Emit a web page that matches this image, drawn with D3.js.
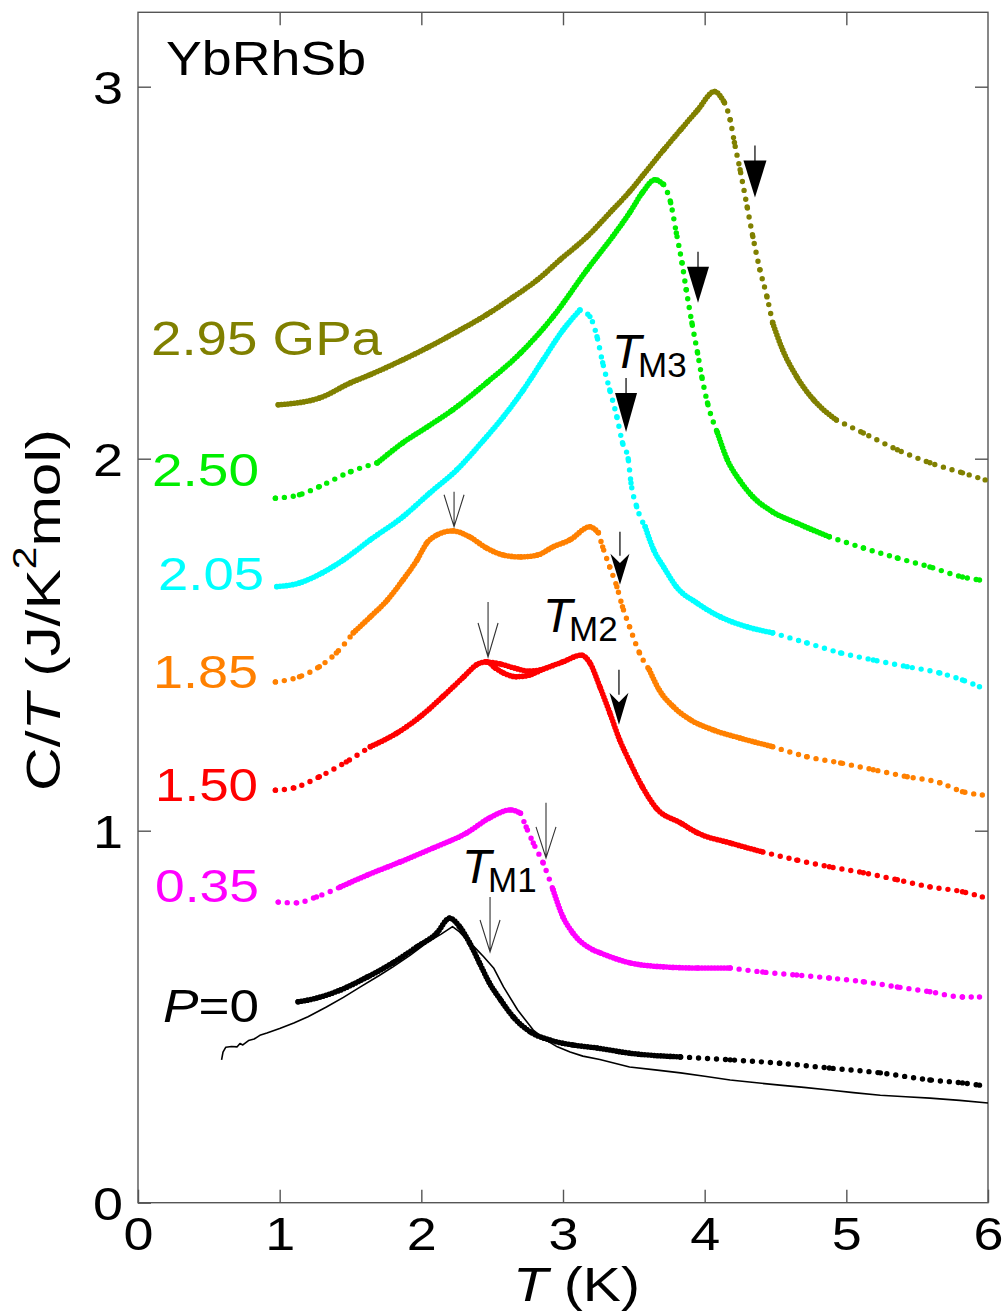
<!DOCTYPE html>
<html><head><meta charset="utf-8">
<script src="https://cdn.jsdelivr.net/npm/d3@7"></script>
<style>body{margin:0;background:#fff}svg{display:block}</style>
</head><body><svg id="c" width="1002" height="1311"></svg>
<script>
// ---------------- DATA ----------------
const xTicks = [0, 1, 2, 3, 4, 5, 6];
const yTicks = [0, 1, 2, 3];
const seriesNames = ["2.95 GPa", "2.50", "2.05", "1.85", "1.50", "0.35", "P=0"];

const T_295 = [0.99,1.28,1.50,1.64,1.87,2.04,2.25,2.46,2.65,2.82,2.98,3.17,3.35,3.47,3.56,3.71,3.83,3.95,4.07,4.14,4.18,4.21,4.25,4.30,4.34,4.39,4.44,4.48,4.55,4.65,4.77,4.93,5.12,5.36,5.59,5.82,5.98];
const C_295 = [2.145,2.163,2.204,2.226,2.266,2.298,2.341,2.387,2.435,2.481,2.535,2.597,2.669,2.718,2.760,2.830,2.884,2.937,2.987,2.957,2.911,2.850,2.777,2.677,2.597,2.508,2.435,2.365,2.293,2.220,2.158,2.104,2.069,2.024,1.989,1.962,1.943];

const T_250 = [0.97,1.14,1.28,1.50,1.69,1.87,2.04,2.22,2.46,2.70,2.93,3.17,3.35,3.47,3.56,3.65,3.71,3.76,3.80,3.84,3.87,3.91,3.95,3.98,4.02,4.09,4.16,4.25,4.34,4.48,4.65,4.88,5.12,5.36,5.59,5.82,5.94];
const C_250 = [1.894,1.903,1.925,1.965,1.989,2.043,2.085,2.131,2.204,2.284,2.382,2.508,2.597,2.661,2.715,2.750,2.737,2.688,2.607,2.527,2.454,2.365,2.284,2.220,2.150,2.070,1.997,1.940,1.898,1.857,1.827,1.790,1.760,1.733,1.709,1.682,1.674];

const T_205 = [0.98,1.14,1.30,1.45,1.64,1.87,2.06,2.25,2.44,2.58,2.72,2.86,3.00,3.12,3.19,3.24,3.28,3.33,3.38,3.42,3.46,3.48,3.52,3.58,3.64,3.71,3.80,3.95,4.11,4.30,4.48,4.72,4.96,5.19,5.43,5.66,5.82,5.94];
const C_205 = [1.656,1.666,1.693,1.728,1.782,1.844,1.908,1.970,2.050,2.113,2.185,2.266,2.346,2.400,2.382,2.328,2.258,2.185,2.113,2.043,2.000,1.935,1.871,1.817,1.755,1.709,1.656,1.611,1.575,1.548,1.532,1.505,1.478,1.459,1.441,1.424,1.405,1.387];

const T_185 = [0.97,1.14,1.28,1.40,1.52,1.64,1.76,1.87,1.97,2.04,2.11,2.22,2.34,2.46,2.58,2.70,2.82,2.93,3.05,3.19,3.25,3.28,3.33,3.38,3.42,3.47,3.54,3.61,3.68,3.78,3.90,4.06,4.25,4.48,4.72,4.96,5.19,5.43,5.66,5.82,5.96];
const C_185 = [1.400,1.414,1.441,1.478,1.532,1.575,1.620,1.674,1.728,1.774,1.795,1.806,1.790,1.760,1.741,1.736,1.741,1.763,1.782,1.817,1.801,1.763,1.709,1.656,1.602,1.548,1.478,1.432,1.378,1.333,1.298,1.271,1.249,1.226,1.199,1.182,1.164,1.145,1.129,1.105,1.096];

const T_150 = [0.97,1.10,1.28,1.47,1.64,1.83,1.99,2.15,2.30,2.39,2.46,2.52,2.58,2.67,2.76,2.86,3.00,3.13,3.19,3.26,3.33,3.40,3.47,3.56,3.66,3.83,3.95,4.18,4.41,4.65,4.88,5.12,5.36,5.59,5.82,5.96];
const C_150 = [1.109,1.115,1.145,1.185,1.226,1.263,1.306,1.360,1.414,1.446,1.454,1.438,1.424,1.414,1.418,1.434,1.454,1.472,1.451,1.387,1.317,1.244,1.186,1.118,1.060,1.021,0.994,0.967,0.943,0.921,0.903,0.887,0.868,0.849,0.836,0.822];
const T_150loop = [2.46,2.56,2.66,2.76,2.84];
const C_150loop = [1.454,1.448,1.437,1.429,1.432];

const T_035 = [0.99,1.12,1.26,1.43,1.62,1.85,2.08,2.32,2.48,2.63,2.70,2.74,2.79,2.86,2.93,3.00,3.07,3.21,3.26,3.47,3.71,3.95,4.18,4.41,4.65,4.88,5.12,5.36,5.59,5.82,5.94];
const C_035 = [0.808,0.806,0.822,0.849,0.881,0.916,0.953,0.994,1.034,1.056,1.047,1.010,0.967,0.913,0.841,0.768,0.725,0.680,0.672,0.645,0.634,0.631,0.631,0.620,0.612,0.604,0.594,0.580,0.567,0.553,0.553];

const T_0dots = [1.13,1.26,1.43,1.62,1.80,1.97,2.11,2.20,2.27,2.34,2.41,2.48,2.56,2.65,2.77,2.91,3.07,3.24,3.47,3.83,4.18,4.53,4.88,5.24,5.59,5.82,5.94];
const C_0dots = [0.540,0.550,0.572,0.607,0.645,0.688,0.725,0.765,0.742,0.699,0.645,0.591,0.545,0.499,0.459,0.437,0.424,0.416,0.402,0.392,0.384,0.375,0.362,0.349,0.330,0.322,0.316];

const T_0line = [0.59,0.60,0.62,0.66,0.70,0.72,0.74,0.78,0.82,0.86,0.91,1.00,1.10,1.20,1.33,1.45,1.57,1.70,1.80,1.92,2.04,2.14,2.22,2.27,2.32,2.38,2.44,2.51,2.58,2.68,2.79,2.88,2.96,3.05,3.14,3.26,3.47,3.65,3.83,4.00,4.18,4.35,4.53,4.70,4.88,5.05,5.24,5.42,5.59,5.80,6.00];
const C_0line = [0.384,0.405,0.418,0.420,0.419,0.428,0.424,0.436,0.440,0.450,0.456,0.468,0.483,0.500,0.526,0.552,0.580,0.610,0.634,0.665,0.699,0.722,0.742,0.728,0.707,0.685,0.661,0.631,0.580,0.518,0.464,0.437,0.419,0.405,0.394,0.385,0.365,0.357,0.349,0.340,0.330,0.323,0.316,0.310,0.303,0.296,0.289,0.285,0.281,0.275,0.268];

// transition arrows (tip position in data units)
const filledArrowT = [4.355, 3.953, 3.445, 3.402, 3.395];
const filledArrowC = [2.702, 2.419, 2.072, 1.661, 1.285];
const openArrowT = [2.231, 2.471, 2.880, 2.485];
const openArrowC = [1.817, 1.467, 0.927, 0.674];

// ---------------- STYLE / LAYOUT ----------------
const FONT = "'Liberation Sans', Arial, Helvetica, sans-serif";
const svg = d3.select("#c");
const M = {l: 138, r: 988, t: 12.3, b: 1202.7};
const x = d3.scaleLinear().domain([0, 6]).range([M.l, M.r]);
const y = d3.scaleLinear().domain([0, 3.2]).range([M.b, M.t]);
const zip = (a, b) => a.map((t, i) => [t, b[i]]);

const series = [
  {T: T_295, C: C_295, color: "#808000", sparse: [[4.12, 4.5], [4.95, 7]]},
  {T: T_250, C: C_250, color: "#00ee00", sparse: [[0, 1.6], [3.72, 4.12], [4.88, 7]]},
  {T: T_205, C: C_205, color: "#00ffff", sparse: [[3.15, 3.55], [4.44, 7]]},
  {T: T_185, C: C_185, color: "#ff8000", sparse: [[0, 1.5], [3.22, 3.6], [4.48, 7]]},
  {T: T_150, C: C_150, color: "#ff0000", sparse: [[0, 1.6], [4.44, 7]]},
  {T: T_150loop, C: C_150loop, color: "#ff0000", sparse: []},
  {T: T_035, C: C_035, color: "#ff00ff", sparse: [[0, 1.5], [2.68, 2.95], [4.16, 7]]},
  {T: T_0dots, C: C_0dots, color: "#000000", sparse: [[3.99, 7]]}
];

// frame + ticks
const axG = svg.append("g");
function styleAxis(g, labels) {
  g.select(".domain").remove();
  g.selectAll(".tick line").attr("stroke", "#555").attr("stroke-width", 1.4);
  if (!labels) g.selectAll(".tick text").remove();
  else g.selectAll(".tick text").attr("fill", "#000").style("font-family", FONT).style("font-size", "46px")
        .attr("textLength", 30).attr("lengthAdjust", "spacingAndGlyphs");
}
axG.append("g").attr("transform", `translate(0,${M.b})`)
  .call(d3.axisBottom(x).tickValues(xTicks).tickSizeInner(-13).tickSizeOuter(0).tickPadding(15).tickFormat(d3.format("d")))
  .call(g => styleAxis(g, true));
axG.append("g").attr("transform", `translate(0,${M.t})`)
  .call(d3.axisTop(x).tickValues(xTicks.slice(1, -1)).tickSizeInner(-13).tickSizeOuter(0))
  .call(g => styleAxis(g, false));
axG.append("g").attr("transform", `translate(${M.l},0)`)
  .call(d3.axisLeft(y).tickValues(yTicks).tickSizeInner(-13).tickSizeOuter(0).tickPadding(15).tickFormat(d3.format("d")))
  .call(g => styleAxis(g, true))
  .call(g => g.selectAll(".tick text").attr("dy", "0.37em"));
axG.append("g").attr("transform", `translate(${M.r},0)`)
  .call(d3.axisRight(y).tickValues(yTicks.slice(1)).tickSizeInner(-13).tickSizeOuter(0))
  .call(g => styleAxis(g, false));
svg.append("rect").attr("x", M.l).attr("y", M.t).attr("width", M.r - M.l).attr("height", M.b - M.t)
  .attr("fill", "none").attr("stroke", "#555").attr("stroke-width", 1.4);

// data
const lineGen = d3.line().x(d => x(d[0])).y(d => y(d[1])).curve(d3.curveMonotoneX);
const plot = svg.append("g");
function isSparse(t, ranges) { return ranges.some(r => t >= r[0] && t <= r[1]); }
series.forEach(s => {
  const pts = zip(s.T, s.C);
  const segs = [];
  let cur = [pts[0]], curS = isSparse((pts[0][0] + pts[1][0]) / 2, s.sparse);
  for (let i = 1; i < pts.length; i++) {
    const sp = isSparse((pts[i - 1][0] + pts[i][0]) / 2, s.sparse);
    if (sp !== curS) { segs.push({p: cur, s: curS}); cur = [pts[i - 1]]; curS = sp; }
    cur.push(pts[i]);
  }
  segs.push({p: cur, s: curS});
  segs.forEach(sg => {
    plot.append("path").attr("d", lineGen(sg.p)).attr("fill", "none").attr("stroke", s.color)
      .attr("stroke-width", sg.s ? 5.4 : 5.6).attr("stroke-linecap", "round")
      .attr("stroke-dasharray", sg.s ? "0 9" : "0 3.2");
  });
  plot.append("g").selectAll("circle").data(pts).join("circle")
    .attr("cx", d => x(d[0])).attr("cy", d => y(d[1])).attr("r", 2.7).attr("fill", s.color);
});
plot.append("path").attr("d", d3.line().x(d => x(d[0])).y(d => y(d[1]))(zip(T_0line, C_0line)))
  .attr("fill", "none").attr("stroke", "#000").attr("stroke-width", 1.6).attr("stroke-linejoin", "round");

// arrows
const arr = svg.append("g");
const filledStyle = [
  {stem: 52, hl: 37, hw: 23, concave: false},
  {stem: 51, hl: 36, hw: 22, concave: false},
  {stem: 54, hl: 39, hw: 22, concave: false},
  {stem: 53, hl: 31, hw: 19, concave: true},
  {stem: 55, hl: 32, hw: 19, concave: true}
];
filledArrowT.forEach((t, i) => {
  const tx = x(t), ty = y(filledArrowC[i]), st = filledStyle[i];
  arr.append("line").attr("x1", tx).attr("x2", tx).attr("y1", ty - st.stem).attr("y2", ty - st.hl + 2)
    .attr("stroke", "#000").attr("stroke-width", 1.2);
  const p = st.concave
    ? `M${tx},${ty} L${tx - st.hw / 2},${ty - st.hl} L${tx},${ty - st.hl * 0.7} L${tx + st.hw / 2},${ty - st.hl} Z`
    : `M${tx},${ty} L${tx - st.hw / 2},${ty - st.hl} L${tx + st.hw / 2},${ty - st.hl} Z`;
  arr.append("path").attr("d", p).attr("fill", "#000");
});
const openStyle = [{stem: 35, hl: 32}, {stem: 55, hl: 34}, {stem: 55, hl: 31}, {stem: 55, hl: 32}];
openArrowT.forEach((t, i) => {
  const tx = x(t), ty = y(openArrowC[i]), st = openStyle[i];
  arr.append("path")
    .attr("d", `M${tx},${ty - st.stem} L${tx},${ty} M${tx - 10},${ty - st.hl} L${tx},${ty} L${tx + 10},${ty - st.hl}`)
    .attr("fill", "none").attr("stroke", "#333").attr("stroke-width", 1.1);
});

// texts
const tg = svg.append("g").style("font-family", FONT);
function label(xp, yp, size, color, len, parts) {
  const t = tg.append("text").attr("x", xp).attr("y", yp).attr("fill", color).style("font-size", size + "px");
  if (len) t.attr("textLength", len).attr("lengthAdjust", "spacingAndGlyphs");
  parts.forEach(p => {
    const s = t.append("tspan").text(p.t);
    if (p.i) s.style("font-style", "italic");
    if (p.fs) s.style("font-size", p.fs + "px");
    if (p.dy) s.attr("dy", p.dy);
  });
  return t;
}
label(166, 75, 49, "#000", 200, [{t: "YbRhSb"}]);
label(151, 355, 49, "#808000", 231, [{t: seriesNames[0]}]);
label(152, 486, 46, "#00ee00", 107, [{t: seriesNames[1]}]);
label(158, 590, 46, "#00ffff", 106, [{t: seriesNames[2]}]);
label(153, 688, 46, "#ff8000", 105, [{t: seriesNames[3]}]);
label(155, 801, 46, "#ff0000", 103, [{t: seriesNames[4]}]);
label(155, 902, 46, "#ff00ff", 104, [{t: seriesNames[5]}]);
label(163, 1022, 46, "#000", 96, [{t: "P", i: true}, {t: "=0"}]);

// T_M labels
[[612, 368, "M3"], [543, 632, "M2"], [462, 883, "M1"]].forEach(d => {
  label(d[0], d[1], 48, "#000", null, [{t: "T", i: true}]);
  label(d[0] + 26, d[1] + 9, 35, "#000", null, [{t: d[2]}]);
});

// axis titles
label(513, 1301, 49, "#000", 127, [{t: "T", i: true}, {t: " (K)"}]);
const yt = tg.append("text").attr("transform", "translate(60,610) rotate(-90)")
  .attr("text-anchor", "middle").style("font-size", "49px").attr("fill", "#000")
  .attr("textLength", 362).attr("lengthAdjust", "spacingAndGlyphs");
yt.append("tspan").text("C/");
yt.append("tspan").text("T").style("font-style", "italic");
yt.append("tspan").text(" (J/K");
yt.append("tspan").text("2").style("font-size", "33px").attr("dy", -24);
yt.append("tspan").text("mol)").attr("dy", 24);
</script>
</body></html>
